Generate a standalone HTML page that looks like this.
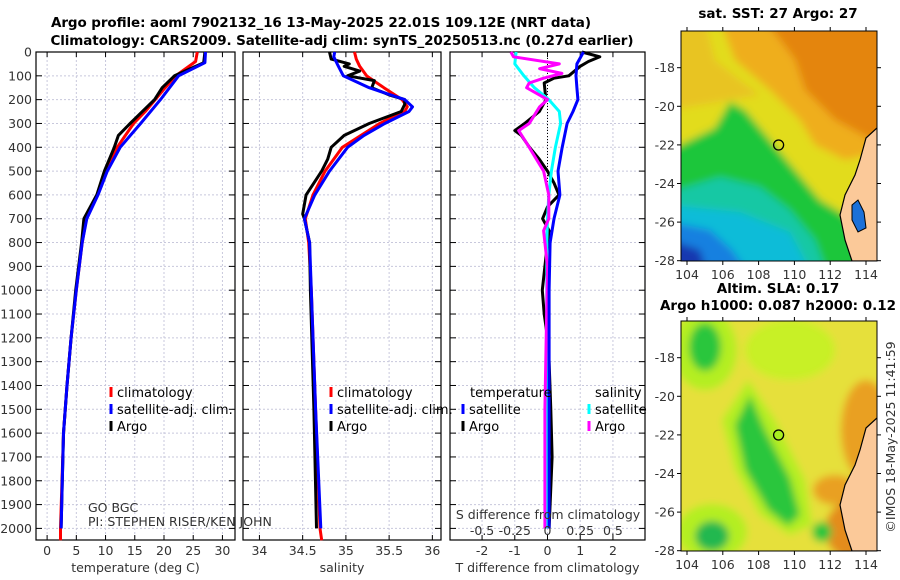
<!DOCTYPE html>
<html><head><meta charset="utf-8"><style>
body{margin:0;background:#fff;}
svg{display:block;font-family:"DejaVu Sans","Liberation Sans",sans-serif;}
.tk{font-size:12.5px;fill:#333;}
.ttl{font-size:13.5px;font-weight:bold;fill:#000;}
.lg{font-size:13px;fill:#000;}
</style></head><body>
<svg id="c" width="900" height="580" viewBox="0 0 900 580">
<defs>
<filter id="bl" x="-5%" y="-5%" width="110%" height="110%"><feGaussianBlur stdDeviation="4"/></filter>
<clipPath id="m1c"><rect x="681" y="31" width="196" height="230"/></clipPath>
<clipPath id="m2c"><rect x="681" y="321" width="196" height="230"/></clipPath>
</defs>
<text class="ttl" x="321" y="27" text-anchor="middle" textLength="540">Argo profile: aoml 7902132_16 13-May-2025 22.01S 109.12E (NRT data)</text>
<text class="ttl" x="342" y="45" text-anchor="middle" textLength="583">Climatology: CARS2009. Satellite-adj clim: synTS_20250513.nc (0.27d earlier)</text>

<!-- Map 1 -->
<g>
<text class="ttl" x="778" y="18" text-anchor="middle">sat. SST: 27 Argo: 27</text>
<g clip-path="url(#m1c)">
<g filter="url(#bl)">
<rect x="670" y="20" width="220" height="250" fill="#e4850c"/>
<polygon points="670,20 765,20 795,60 805,90 835,120 890,150 890,270 670,270" fill="#efae1c"/>
<polygon points="670,20 720,20 735,60 770,90 800,120 815,145 845,160 890,150 890,270 670,270" fill="#e2dc1c"/>
<polygon points="670,20 705,20 715,60 740,80 760,95 670,110" fill="#e8c420"/>
<polygon points="670,150 715,128 730,102 745,110 770,140 795,170 820,200 845,215 862,240 868,270 670,270" fill="#1cc63a"/>
<polygon points="670,192 720,177 760,187 790,210 815,240 826,270 670,270" fill="#18c8a4"/>
<polygon points="670,205 740,212 790,232 810,270 670,270" fill="#10bcd8"/>
<polygon points="670,222 710,230 732,250 746,270 670,270" fill="#1480e0"/>
<polygon points="670,240 700,250 706,270 670,270" fill="#1838b0"/>
</g>
<polygon points="890,126 877,128 866,138 860,160 855,175 845,195 840,215 845,240 852,261 890,261" fill="#fbc999" stroke="#000" stroke-width="1.2"/>
<polygon points="852,205 858,200 864,212 866,228 858,232 852,220" fill="#1a70d8" stroke="#000" stroke-width="1"/>
</g>
<rect x="681" y="31" width="196" height="230" fill="none" stroke="#000" stroke-width="1"/>
<circle cx="778.6" cy="145" r="5" fill="none" stroke="#000" stroke-width="1.3"/>
<g id="m1ax"></g>
</g>

<!-- Map 2 -->
<g>
<text class="ttl" x="778" y="293" text-anchor="middle">Altim. SLA: 0.17</text>
<text class="ttl" x="778" y="310" text-anchor="middle">Argo h1000: 0.087 h2000: 0.12</text>
<g clip-path="url(#m2c)">
<g filter="url(#bl)">
<rect x="670" y="310" width="220" height="250" fill="#e6e03a"/>
<ellipse cx="866" cy="430" rx="25" ry="50" fill="#e9a024"/>
<ellipse cx="835" cy="490" rx="22" ry="15" fill="#e9a024"/>
<ellipse cx="855" cy="530" rx="30" ry="30" fill="#e48c1c"/>
<ellipse cx="790" cy="350" rx="45" ry="30" fill="#c8f028"/>
<ellipse cx="705" cy="350" rx="32" ry="40" fill="#b4ee24"/>
<polygon points="722,420 748,380 775,420 805,480 812,525 790,535 760,515 735,470" fill="#b4ee24"/>
<ellipse cx="712" cy="532" rx="35" ry="28" fill="#b4ee24"/>
<ellipse cx="705" cy="347" rx="16" ry="24" fill="#2cc63c"/>
<polygon points="735,425 750,395 765,430 790,478 800,515 788,526 768,510 745,470" fill="#2cc63c"/>
<ellipse cx="712" cy="536" rx="17" ry="15" fill="#22b850"/>
<ellipse cx="822" cy="532" rx="10" ry="10" fill="#2cc63c"/>
</g>
<polygon points="890,416 877,418 866,428 860,450 855,465 845,485 840,505 845,530 852,551 890,551" fill="#fbc999" stroke="#000" stroke-width="1.2"/>
</g>
<rect x="681" y="321" width="196" height="230" fill="none" stroke="#000" stroke-width="1"/>
<circle cx="778.6" cy="435" r="5" fill="#a8ee20" stroke="#000" stroke-width="1.3"/>
<g id="m2ax"></g>
</g>
<text class="tk" transform="translate(895,437) rotate(-90)" text-anchor="middle" font-size="13">©IMOS 18-May-2025 11:41:59</text>

<g id="plots"></g>
</svg>
<script>
// ---------- DATA ----------
const depthTicks=[0,100,200,300,400,500,600,700,800,900,1000,1100,1200,1300,1400,1500,1600,1700,1800,1900,2000];
const tempTicks=[0,5,10,15,20,25,30];
const salTicks=[34,34.5,35,35.5,36];
const tdiffTicks=[-2,-1,0,1,2];
const sdiffTicks=[-0.5,-0.25,0,0.25,0.5];
const sdiffTickLabels=["-0.5","-0.25","0","0.25","0.5"];
const lonTicks=[104,106,108,110,112,114];
const latTicks=[-18,-20,-22,-24,-26,-28];

const tClimDepth=[0,40,100,150,200,250,300,350,400,500,600,700,800,1000,1200,1400,1600,2000,2050];
const tClim=[25.7,25.4,22,20.2,18.5,16.8,14.8,13.4,12,10,8.6,6.7,6,5,4.1,3.4,2.8,2.3,2.3];
const tSatDepth=[0,45,100,200,300,400,500,600,700,800,1000,1200,1400,1600,2000];
const tSat=[27.1,27,22.5,19.4,16,12.5,10.3,8.7,6.8,6,5,4.1,3.4,2.8,2.4];
const tArgoDepth=[0,45,100,150,200,300,350,400,500,600,700,800,1000,1200,1400,1600,2000];
const tArgo=[27,26.8,21.8,19.7,18.4,14.2,12.2,11.5,9.8,8.5,6.3,5.9,4.9,4.1,3.4,2.8,2.4];

const sClimDepth=[0,30,60,100,150,200,230,250,300,400,500,600,700,800,1000,1500,2000,2050];
const sClim=[35.1,35.12,35.16,35.24,35.44,35.65,35.71,35.68,35.39,34.96,34.76,34.62,34.53,34.57,34.6,34.65,34.7,34.72];
const sSatDepth=[0,20,50,100,150,200,230,250,300,350,400,500,600,700,800,1000,1500,2000];
const sSat=[34.87,34.86,34.9,34.97,35.27,35.68,35.77,35.73,35.45,35.21,35.02,34.81,34.64,34.52,34.58,34.6,34.65,34.71];
const sArgoDepth=[0,30,50,60,80,100,120,150,180,200,220,250,300,350,400,450,500,600,680,700,800,1000,1500,2000];
const sArgo=[34.81,34.83,35.04,34.98,35.16,35.02,35.33,35.3,35.5,35.68,35.68,35.64,35.27,34.98,34.83,34.79,34.72,34.54,34.5,34.52,34.58,34.59,34.63,34.66];

const dTSatDepth=[0,50,100,150,200,250,300,400,500,600,700,800,1000,2000];
const dTSat=[1.1,0.9,0.87,0.9,0.93,0.78,0.6,0.45,0.32,0.38,0.2,0.08,0.05,0.05];
const dTArgoDepth=[0,20,40,60,100,110,130,200,250,300,330,350,400,450,500,550,600,650,700,750,800,900,1000,1100,1200,1300,1500,1700,2000];
const dTArgo=[1.05,1.6,1.25,1.0,0.65,0.2,-0.1,-0.05,-0.25,-0.7,-1.0,-0.8,-0.55,-0.25,0,0.2,0.35,0,-0.15,0.05,0,-0.08,-0.16,-0.1,0,0.05,0.1,0.14,0.05];
const dSSatDepth=[0,50,100,150,200,250,300,400,500,600,700,800,2000];
const dSSat=[-0.24,-0.25,-0.18,-0.1,0.01,0.09,0.1,0.06,0.03,0.01,0,-0.005,-0.005];
const dSArgoDepth=[0,20,50,70,90,110,130,150,200,230,300,330,400,500,600,700,750,900,1500,2000];
const dSArgo=[-0.28,-0.26,0.09,-0.06,0.11,-0.03,-0.14,-0.16,0,-0.06,-0.14,-0.22,-0.14,-0.03,0.01,0.01,-0.03,0,-0.02,-0.02];

// ---------- DRAW ----------
const NS="http://www.w3.org/2000/svg";
const root=document.getElementById('plots');
function el(t,a,p){const e=document.createElementNS(NS,t);for(const k in a)e.setAttribute(k,a[k]);(p||root).appendChild(e);return e;}
const yD=d=>52+d*0.2382;
const Y0=52,Y1=540;
const panels=[
 {x0:36,x1:235,lo:-1.9,hi:32.15,ticks:tempTicks,name:'temperature-panel',title:'temperature (deg C)'},
 {x0:243,x1:441,lo:33.81,hi:36.1,ticks:salTicks,name:'salinity-panel',title:'salinity'},
 {x0:450,x1:645,lo:-2.98,hi:2.98,ticks:tdiffTicks,name:'difference-panel',title:'T difference from climatology'}
];
panels.forEach(p=>{p.sx=v=>p.x0+(v-p.lo)/(p.hi-p.lo)*(p.x1-p.x0);});
function tx(x,y,s,cls,anchor,name){const t=el('text',{x:x,y:y,class:cls,'text-anchor':anchor||'middle'});t.textContent=s;


return t;}
panels.forEach((p,i)=>{
  const g=el('g',{});
  
  
  depthTicks.forEach(d=>{el('line',{x1:p.x0,x2:p.x1,y1:yD(d),y2:yD(d),stroke:'#c8c8dc','stroke-width':1,'stroke-dasharray':'2,2'},g);
    el('line',{x1:p.x0,x2:p.x0+6,y1:yD(d),y2:yD(d),stroke:'#000'},g);
    el('line',{x1:p.x1-6,x2:p.x1,y1:yD(d),y2:yD(d),stroke:'#000'},g);});
  p.ticks.forEach(v=>{const x=p.sx(v);el('line',{x1:x,x2:x,y1:Y0,y2:Y1,stroke:'#c8c8dc','stroke-width':1,'stroke-dasharray':'2,2'},g);
    el('line',{x1:x,x2:x,y1:Y1,y2:Y1-5,stroke:'#000'},g);el('line',{x1:x,x2:x,y1:Y0,y2:Y0+5,stroke:'#000'},g);
    tx(x,555,String(v),'tk','middle','x-tick-label');});
  el('rect',{x:p.x0,y:Y0,width:p.x1-p.x0,height:Y1-Y0,fill:'none',stroke:'#000','stroke-width':1.2},g);
  tx((p.x0+p.x1)/2,572,p.title,'tk','middle','x-axis-title');
  p.g=g;
});
depthTicks.forEach(d=>tx(32,yD(d)+4.5,String(d),'tk','end','y-tick-label'));
el('line',{x1:panels[2].sx(0),x2:panels[2].sx(0),y1:Y0,y2:200,stroke:'#000','stroke-dasharray':'1,2'});
function series(p,xs,ds,color,name,w){
  const pts=xs.map((v,i)=>p.sx(v).toFixed(1)+','+yD(ds[i]).toFixed(1)).join(' ');
  const pl=el('polyline',{points:pts,fill:'none',stroke:color,'stroke-width':w||3,'stroke-linejoin':'round'});
  
  
}
const P=panels;
series(P[0],tClim,tClimDepth,'#ff0000','temperature-climatology-line');
series(P[0],tArgo,tArgoDepth,'#000000','temperature-argo-line');
series(P[0],tSat,tSatDepth,'#0000ff','temperature-satellite-line');
series(P[1],sClim,sClimDepth,'#ff0000','salinity-climatology-line');
series(P[1],sArgo,sArgoDepth,'#000000','salinity-argo-line');
series(P[1],sSat,sSatDepth,'#0000ff','salinity-satellite-line');
const sdScale=4;
series(P[2],dTArgo,dTArgoDepth,'#000000','t-diff-argo-line');
series(P[2],dSSat.map(v=>v*sdScale),dSSatDepth,'#00ffff','s-diff-satellite-line');
series(P[2],dSArgo.map(v=>v*sdScale),dSArgoDepth,'#ff00ff','s-diff-argo-line');
series(P[2],dTSat,dTSatDepth,'#0000ff','t-diff-satellite-line');
tx(548,519,'S difference from climatology','tk','middle','s-diff-axis-title');
sdiffTicks.forEach((v,i)=>tx(P[2].sx(v*sdScale),535,sdiffTickLabels[i],'tk','middle','s-diff-tick-label'));
function leg(x,y,color,label){const m=el('line',{x1:x,x2:x,y1:y-10,y2:y,stroke:color,'stroke-width':3});
  
  
  tx(x+6,y,label,'lg','start','legend-entry');}
[[111,'climatology','#ff0000'],[111,'satellite-adj. clim.','#0000ff'],[111,'Argo','#000']].forEach((e,i)=>leg(e[0],397+i*17,e[2],e[1]));
[[331,'climatology','#ff0000'],[331,'satellite-adj. clim.','#0000ff'],[331,'Argo','#000']].forEach((e,i)=>leg(e[0],397+i*17,e[2],e[1]));
tx(470,397,'temperature','lg','start','legend-title-temperature');
leg(463,414,'#0000ff','satellite');leg(463,431,'#000','Argo');
tx(595,397,'salinity','lg','start','legend-title-salinity');
leg(589,414,'#00ffff','satellite');leg(589,431,'#ff00ff','Argo');
const gb=tx(88,512,'GO BGC','tk','start','program-label');gb.setAttribute('font-size','11');
const pi=tx(88,526,'PI: STEPHEN RISER/KEN JOHN','tk','start','pi-label');pi.setAttribute('font-size','11');
function mapAx(gid,top){
  const g=document.getElementById(gid);
  const lx=v=>687+(v-104)*17.9, ly=v=>top+36.7+(-18-v)*19.3;
  lonTicks.forEach(v=>{el('line',{x1:lx(v),x2:lx(v),y1:top,y2:top-4,stroke:'#000'},g);el('line',{x1:lx(v),x2:lx(v),y1:top+230,y2:top+234,stroke:'#000'},g);
    const t=tx(lx(v),top+248,String(v),'tk','middle','lon-tick-label');g.appendChild(t);});
  latTicks.forEach(v=>{el('line',{x1:681,x2:677,y1:ly(v),y2:ly(v),stroke:'#000'},g);el('line',{x1:877,x2:881,y1:ly(v),y2:ly(v),stroke:'#000'},g);
    const t=tx(675,ly(v)+4.5,String(v),'tk','end','lat-tick-label');g.appendChild(t);});
}
mapAx('m1ax',31);mapAx('m2ax',321);
</script>
</body></html>
